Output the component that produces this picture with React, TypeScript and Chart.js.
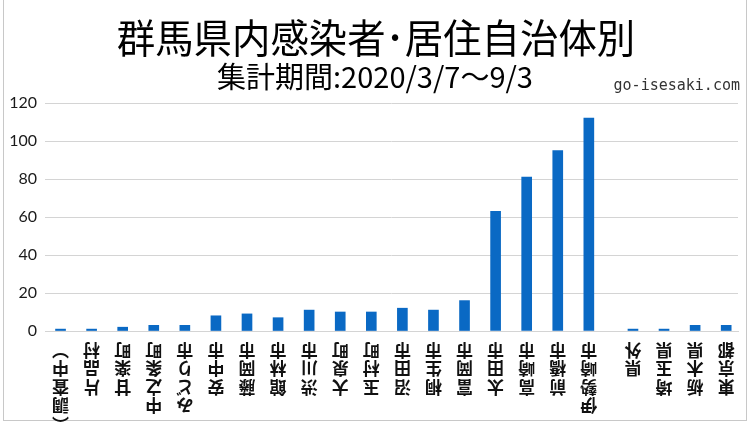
import React, { useEffect, useRef } from "react";
import { Chart, registerables } from "chart.js";

Chart.register(...registerables);

const titleText = "群馬県内感染者･居住自治体別";
const subtitleText = "集計期間:2020/3/7～9/3";
const siteText = "go-isesaki.com";

const categories = [
  "(調査中)", "片品村", "甘楽町", "中之条町", "みどり市", "安中市", "藤岡市", "館林市",
  "渋川市", "大泉町", "玉村町", "沼田市", "桐生市", "富岡市", "太田市", "高崎市",
  "前橋市", "伊勢崎市", "県外", "埼玉県", "栃木県", "東京都",
];
// slot index of each category along the axis (a wider gap before 県外)
const slots = [0, 1, 2, 3, 4, 5, 6, 7, 8, 9, 10, 11, 12, 13, 14, 15, 16, 17, 18.42, 19.42, 20.42, 21.42];
const counts = [1, 1, 2, 3, 3, 8, 9, 7, 11, 10, 10, 12, 11, 16, 63, 81, 95, 112, 1, 1, 3, 3];
const yTicks = [0, 20, 40, 60, 80, 100, 120];

// stacked vertical text (one character per line), later rotated 180° by the axis
const verticalForm: Record<string, string> = { "(": "︵", ")": "︶" };
const LINES = 5;
const tickLines = categories.map((c) => {
  const chars = Array.from(c).map((ch) => verticalForm[ch] ?? ch);
  while (chars.length < LINES) chars.unshift("");
  return chars;
});

const LABEL_SIZE = 17;
const LINE_H = 18.5;

export default function App() {
  const ref = useRef<HTMLCanvasElement | null>(null);

  useEffect(() => {
    if (!ref.current) return;
    const chart = new Chart(ref.current, {
      type: "bar",
      data: {
        datasets: [
          {
            data: slots.map((x, i) => ({ x, y: counts[i] })),
            backgroundColor: "#0A69C4",
            barThickness: 10,
          },
        ],
      },
      options: {
        animation: false,
        responsive: false,
        maintainAspectRatio: false,
        layout: { padding: { top: 103, right: 12, bottom: 0, left: 0 } },
        plugins: { legend: { display: false }, tooltip: { enabled: false }, title: { display: false } },
        scales: {
          x: {
            type: "linear",
            min: -0.5,
            max: 21.8,
            offset: false,
            grid: { display: false, drawTicks: true, tickLength: 350 + (LINES - 0.5) * LINE_H - 331 - 2 },
            border: { display: true, color: "#d4d4d4", width: 1 },
            afterBuildTicks: (scale: any) => {
              scale.ticks = slots.map((v) => ({ value: v }));
            },
            afterFit: (scale: any) => {
              scale.height = 95;
            },
            ticks: {
              autoSkip: false,
              minRotation: 180,
              maxRotation: 180,
              padding: 2,
              labelOffset: -LABEL_SIZE / 2,
              color: "#111",
              font: { family: "'Noto Sans CJK JP'", size: LABEL_SIZE, weight: "bold", lineHeight: LINE_H + "px" },
              callback: (_v: any, index: number) => tickLines[index],
            },
          },
          y: {
            min: 0,
            max: 120,
            afterBuildTicks: (scale: any) => {
              scale.ticks = yTicks.map((v) => ({ value: v }));
            },
            afterFit: (scale: any) => {
              scale.width = 45;
            },
            grid: { color: "#d4d4d4", lineWidth: 1, drawTicks: false },
            border: { display: false },
            ticks: {
              padding: 8,
              color: "#1a1a1a",
              font: { family: "Lato", size: 16 },
            },
          },
        },
      },
    });
    return () => chart.destroy();
  }, []);

  return (
    <div
      style={{
        position: "fixed",
        left: 0,
        top: 0,
        width: 750,
        height: 426,
        background: "#fff",
        overflow: "hidden",
      }}
    >
      <div
        style={{
          position: "absolute",
          left: 3,
          top: 0,
          width: 744,
          height: 421,
          borderLeft: "1px solid #c8c8c8",
          borderRight: "1px solid #c8c8c8",
          borderBottom: "1px solid #c8c8c8",
          boxSizing: "border-box",
        }}
      />
      <canvas ref={ref} width={750} height={426} style={{ position: "absolute", left: 0, top: 0, width: 750, height: 426 }} />
      <div
        style={{
          position: "absolute",
          left: 0,
          top: 16,
          width: 752,
          textAlign: "center",
          fontFamily: "'Noto Sans CJK JP'",
          fontSize: 40,
          lineHeight: "40px",
          color: "#000",
          whiteSpace: "nowrap",
          transform: "scaleX(0.96)",
        }}
      >
        {titleText}
      </div>
      <div
        style={{
          position: "absolute",
          left: 0,
          top: 60,
          width: 750,
          textAlign: "center",
          fontFamily: "'Noto Sans CJK JP'",
          fontSize: 29,
          lineHeight: "30px",
          color: "#000",
          whiteSpace: "nowrap",
        }}
      >
        {subtitleText}
      </div>
      <div
        style={{
          position: "absolute",
          right: 10,
          top: 76,
          fontFamily: "'DejaVu Sans Mono'",
          fontSize: 15,
          lineHeight: "18px",
          color: "#333",
          whiteSpace: "nowrap",
        }}
      >
        {siteText}
      </div>
    </div>
  );
}
